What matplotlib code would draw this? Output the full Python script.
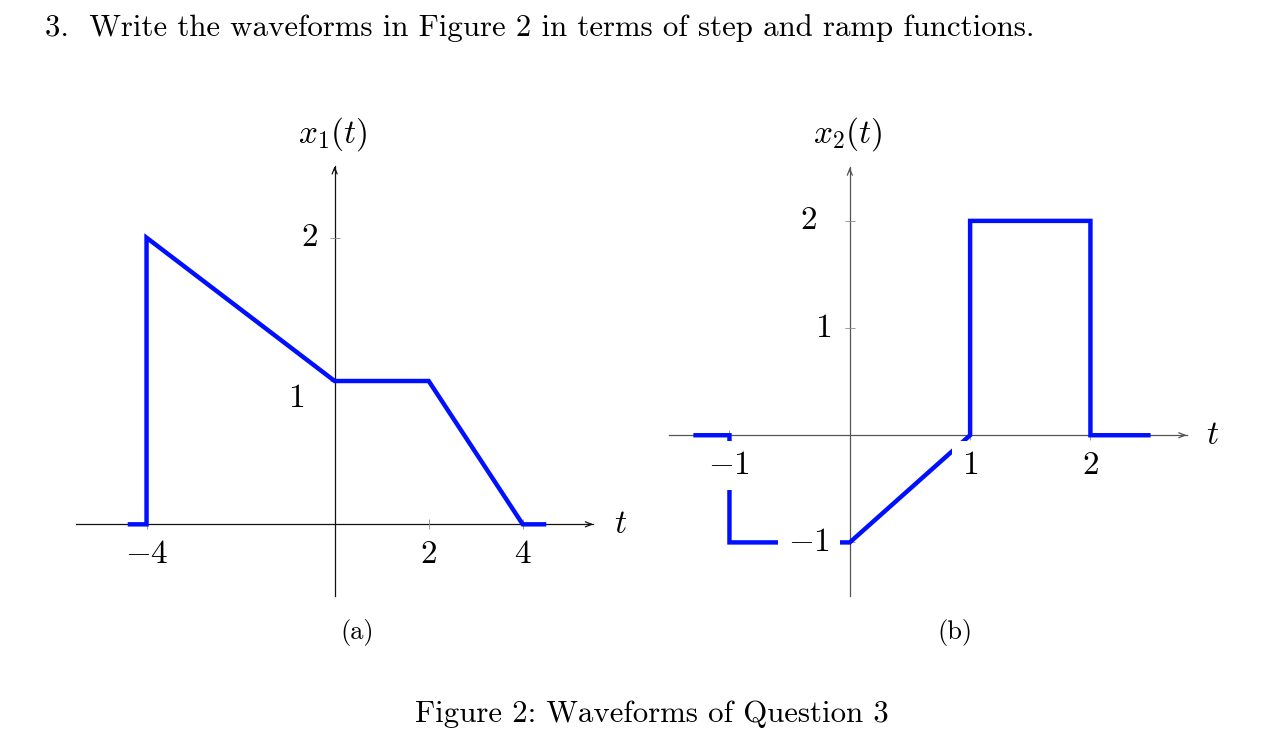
import matplotlib
matplotlib.use("Agg")
import matplotlib.pyplot as plt

plt.rcParams["mathtext.fontset"] = "cm"
plt.rcParams["font.family"] = "cmr10"
plt.rcParams["axes.unicode_minus"] = False

# Waveform x1(t)
t1 = [-4.4, -4, -4, 0, 2, 4, 4.5]
x1 = [0, 0, 2, 1, 1, 0, 0]
t1_ticks = [-4, 2, 4]
t1_labels = [r"$-4$", r"$2$", r"$4$"]
x1_ticks = [1, 2]
x1_labels = [r"$1$", r"$2$"]

# Waveform x2(t)
t2 = [-1.3, -1, -1, 0, 1, 1, 2, 2, 2.5]
x2 = [0, 0, -1, -1, 0, 2, 2, 0, 0]
t2_ticks = [-1, 1, 2]
t2_labels = [r"$-1$", r"$1$", r"$2$"]
x2_ticks = [-1, 1, 2]
x2_labels = [r"$-1$", r"$1$", r"$2$"]

W, H = 1278, 742
DPI = 100
fig = plt.figure(figsize=(W / DPI, H / DPI), dpi=DPI)
fig.patch.set_facecolor("white")

FS = 24
BLUE = "#0010ff"


def px_axes(x0, x1p, ytop, ybot):
    return fig.add_axes([x0 / W, 1 - ybot / H, (x1p - x0) / W, (ybot - ytop) / H])


def setup(ax, xlim, ylim, axis_color):
    ax.set_xlim(*xlim)
    ax.set_ylim(*ylim)
    ax.set_facecolor("none")
    for s in ("top", "right"):
        ax.spines[s].set_visible(False)
    for s in ("left", "bottom"):
        ax.spines[s].set_position("zero")
        ax.spines[s].set_color(axis_color)
        ax.spines[s].set_linewidth(0.9)
        ax.spines[s].set_zorder(1)
    ax.tick_params(direction="inout", length=7, width=0.6, color="#8a8a8a",
                   labelbottom=False, labelleft=False)
    arrow = dict(arrowstyle="->,head_length=0.45,head_width=0.18",
                 color=axis_color, lw=0.9, shrinkA=0, shrinkB=0)
    ax.annotate("", xy=(xlim[1], 0), xytext=(xlim[1] - 0.01 * (xlim[1] - xlim[0]), 0),
                arrowprops=arrow, zorder=1)
    ax.annotate("", xy=(0, ylim[1]), xytext=(0, ylim[1] - 0.01 * (ylim[1] - ylim[0])),
                arrowprops=arrow, zorder=1)


def label(ax, text, xy, dx, dy, ha, va):
    ax.annotate(text, xy=xy, xytext=(dx, dy), textcoords="offset pixels",
                ha=ha, va=va, fontsize=FS, zorder=5,
                bbox=dict(boxstyle="square,pad=0.3", fc="white", ec="none"))


# ---- panel (a) ----
axa = px_axes(76, 593.3, 166, 596)
setup(axa, (-5.5, 5.5), (-0.5, 2.5), "#111111")
axa.set_xticks(t1_ticks)
axa.set_yticks(x1_ticks)
axa.plot(t1, x1, color=BLUE, lw=3.2, solid_joinstyle="miter",
         solid_capstyle="butt", zorder=3)
for tv, tl in zip(t1_ticks, t1_labels):
    label(axa, tl, (tv, 0), 0, -39, "center", "baseline")
label(axa, x1_labels[0], (0, x1_ticks[0]), -31, -17, "right", "center")
label(axa, x1_labels[1], (0, x1_ticks[1]), -17, 0, "right", "center")
axa.annotate(r"$t$", xy=(5.5, 0), xytext=(27, 0), textcoords="offset pixels",
             ha="center", va="center", fontsize=FS)
axa.annotate(r"$x_1(t)$", xy=(0, 2.5), xytext=(-2, 32), textcoords="offset pixels",
             ha="center", va="center", fontsize=FS)

# ---- panel (b) ----
axb = px_axes(669.3, 1186.7, 167.3, 596)
setup(axb, (-1.5, 2.8), (-1.5, 2.5), "#555555")
axb.set_xticks(t2_ticks)
axb.set_yticks(x2_ticks)
axb.plot(t2, x2, color=BLUE, lw=3.2, solid_joinstyle="miter",
         solid_capstyle="butt", zorder=3)
for tv, tl in zip(t2_ticks, t2_labels):
    label(axb, tl, (tv, 0), 0, -38.5, "center", "baseline")
y_offsets_b = [-19.3, -18.3, -33.3]
for yv, yl, dx in zip(x2_ticks, x2_labels, y_offsets_b):
    label(axb, yl, (0, yv), dx, 0, "right", "center")
axb.annotate(r"$t$", xy=(2.8, 0), xytext=(26, 0), textcoords="offset pixels",
             ha="center", va="center", fontsize=FS)
axb.annotate(r"$x_2(t)$", xy=(0, 2.5), xytext=(-2, 33), textcoords="offset pixels",
             ha="center", va="center", fontsize=FS)

# ---- texts ----
fig.text(45 / W, 1 - 36 / H,
         "3.  Write the waveforms in Figure 2 in terms of step and ramp functions.",
         ha="left", va="baseline", fontsize=22.2)
fig.text(357 / W, 1 - 632 / H, "(a)", ha="center", va="center", fontsize=19)
fig.text(955 / W, 1 - 632 / H, "(b)", ha="center", va="center", fontsize=19)
fig.text(652 / W, 1 - 722 / H, "Figure 2: Waveforms of Question 3",
         ha="center", va="baseline", fontsize=22.2)

fig.savefig("out.png", dpi=DPI, facecolor="white")
